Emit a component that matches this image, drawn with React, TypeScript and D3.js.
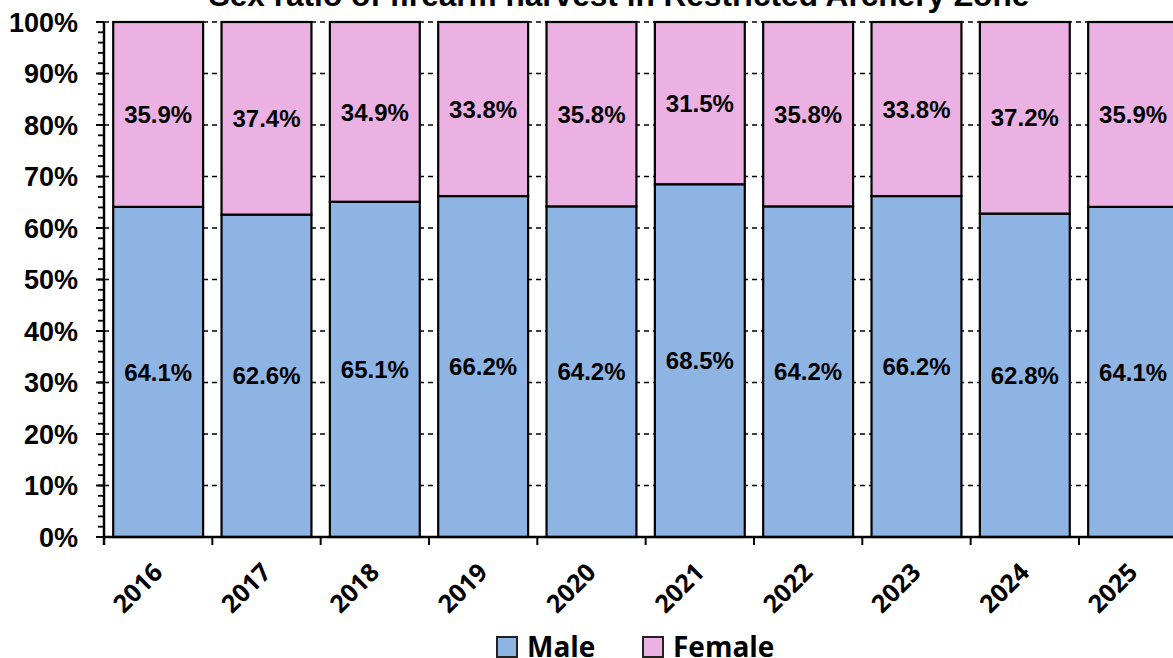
import * as d3 from "d3";
import { useRef, useEffect } from "react";

const years = ["2016", "2017", "2018", "2019", "2020", "2021", "2022", "2023", "2024", "2025"];
const male = [64.1, 62.6, 65.1, 66.2, 64.2, 68.5, 64.2, 66.2, 62.8, 64.1];
const female = [35.9, 37.4, 34.9, 33.8, 35.8, 31.5, 35.8, 33.8, 37.2, 35.9];
const yTicks = [0, 10, 20, 30, 40, 50, 60, 70, 80, 90, 100];
const seriesNames = ["Male", "Female"];
const colors = ["#8EB4E3", "#EBB1E3"];
const title = "Sex ratio of firearm harvest in Restricted Archery Zone";

export default function App() {
  const svgRef = useRef(null);

  useEffect(() => {
    const width = 1173;
    const height = 658;
    const left = 104;
    const top = 22;
    const bottom = 537;

    const svg = d3.select(svgRef.current).attr("width", width).attr("height", height);
    svg.selectAll("*").remove();

    const x = d3
      .scaleBand()
      .domain(years)
      .range([left, left + 10 * 108.33])
      .paddingInner(0.17)
      .paddingOuter(0.085);
    const y = d3.scaleLinear().domain([0, 100]).range([bottom, top]);
    const step = x.step();
    const gap = (step - x.bandwidth()) / 2;

    // title (cut off at top)
    svg
      .append("text")
      .attr("x", 619)
      .attr("y", 6)
      .attr("text-anchor", "middle")
      .style("font-family", "Liberation Sans, Arial, sans-serif")
      .style("font-weight", "bold")
      .style("font-size", "31.6px")
      .text(title);

    // dashed gridlines
    svg
      .append("g")
      .selectAll("line")
      .data(yTicks.filter((d) => d > 0))
      .enter()
      .append("line")
      .attr("x1", left)
      .attr("x2", width)
      .attr("y1", (d) => y(d))
      .attr("y2", (d) => y(d))
      .attr("stroke", "#000")
      .attr("stroke-width", 1.5)
      .attr("stroke-dasharray", "5,4");

    const stacked = years.map((yr, i) => ({ yr, m: male[i], f: female[i] }));

    const bars = svg.append("g");
    // male
    bars
      .selectAll("rect.m")
      .data(stacked)
      .enter()
      .append("rect")
      .attr("class", "m")
      .attr("x", (d) => x(d.yr)!)
      .attr("width", x.bandwidth())
      .attr("y", (d) => y(d.m))
      .attr("height", (d) => y(0) - y(d.m))
      .attr("fill", colors[0])
      .attr("stroke", "#000")
      .attr("stroke-width", 2.2);
    // female
    bars
      .selectAll("rect.f")
      .data(stacked)
      .enter()
      .append("rect")
      .attr("class", "f")
      .attr("x", (d) => x(d.yr)!)
      .attr("width", x.bandwidth())
      .attr("y", (d) => y(d.m + d.f))
      .attr("height", (d) => y(d.m) - y(d.m + d.f))
      .attr("fill", colors[1])
      .attr("stroke", "#000")
      .attr("stroke-width", 2.2);

    const labelStyle = (sel: any) =>
      sel
        .attr("text-anchor", "middle")
        .attr("dy", "0.36em")
        .style("font-family", "Liberation Sans, Arial, sans-serif")
        .style("font-weight", "bold")
        .style("font-size", "24px")
        .attr("fill", "#000");

    bars
      .selectAll("text.m")
      .data(stacked)
      .enter()
      .append("text")
      .attr("x", (d) => x(d.yr)! + x.bandwidth() / 2)
      .attr("y", (d) => (y(0) + y(d.m)) / 2)
      .call(labelStyle)
      .text((d) => d.m.toFixed(1) + "%");
    bars
      .selectAll("text.f")
      .data(stacked)
      .enter()
      .append("text")
      .attr("x", (d) => x(d.yr)! + x.bandwidth() / 2)
      .attr("y", (d) => (y(d.m) + y(d.m + d.f)) / 2)
      .call(labelStyle)
      .text((d) => d.f.toFixed(1) + "%");

    // y axis
    const yAxis = svg.append("g");
    yAxis
      .selectAll("line.minor")
      .data(d3.range(0, 101, 2))
      .enter()
      .append("line")
      .attr("x1", left - 6)
      .attr("x2", left)
      .attr("y1", (d) => y(d))
      .attr("y2", (d) => y(d))
      .attr("stroke", "#000")
      .attr("stroke-width", 1.8);
    yAxis
      .selectAll("line.major")
      .data(yTicks)
      .enter()
      .append("line")
      .attr("x1", left - 8)
      .attr("x2", left)
      .attr("y1", (d) => y(d))
      .attr("y2", (d) => y(d))
      .attr("stroke", "#000")
      .attr("stroke-width", 2);
    yAxis
      .selectAll("text")
      .data(yTicks)
      .enter()
      .append("text")
      .attr("x", 78)
      .attr("y", (d) => y(d))
      .attr("dy", "0.36em")
      .attr("text-anchor", "end")
      .style("font-family", "Liberation Sans, Arial, sans-serif")
      .style("font-weight", "bold")
      .style("font-size", "27px")
      .text((d) => d + "%");
    yAxis
      .append("line")
      .attr("x1", left)
      .attr("x2", left)
      .attr("y1", top)
      .attr("y2", bottom + 8)
      .attr("stroke", "#000")
      .attr("stroke-width", 2.5);

    // x axis
    const xAxis = svg.append("g");
    xAxis
      .append("line")
      .attr("x1", left)
      .attr("x2", width)
      .attr("y1", bottom)
      .attr("y2", bottom)
      .attr("stroke", "#000")
      .attr("stroke-width", 2.5);
    xAxis
      .selectAll("line.tick")
      .data(years)
      .enter()
      .append("line")
      .attr("x1", (d) => x(d)! - gap)
      .attr("x2", (d) => x(d)! - gap)
      .attr("y1", bottom)
      .attr("y2", bottom + 8)
      .attr("stroke", "#000")
      .attr("stroke-width", 2);
    xAxis
      .selectAll("text")
      .data(years)
      .enter()
      .append("text")
      .attr(
        "transform",
        (d) => `translate(${x(d)! + x.bandwidth() / 2 + 6},${574}) rotate(-45)`
      )
      .attr("text-anchor", "end")
      .style("font-family", "Open Sans, sans-serif")
      .style("font-weight", "bold")
      .style("font-size", "25px")
      .text((d) => d);

    // legend
    const legendX = [497, 643];
    const lg = svg.append("g");
    seriesNames.forEach((name, i) => {
      lg.append("rect")
        .attr("x", legendX[i])
        .attr("y", 637)
        .attr("width", 20)
        .attr("height", 20)
        .attr("fill", colors[i])
        .attr("stroke", "#222")
        .attr("stroke-width", 2);
      lg.append("text")
        .attr("x", legendX[i] + 30)
        .attr("y", 657)
        .style("font-family", "Open Sans, sans-serif")
        .style("font-weight", "bold")
        .style("font-size", "28px")
        .text(name);
    });
  }, []);

  return (
    <svg
      ref={svgRef}
      style={{ position: "absolute", left: 0, top: 0, background: "#fff", overflow: "hidden" }}
    />
  );
}
